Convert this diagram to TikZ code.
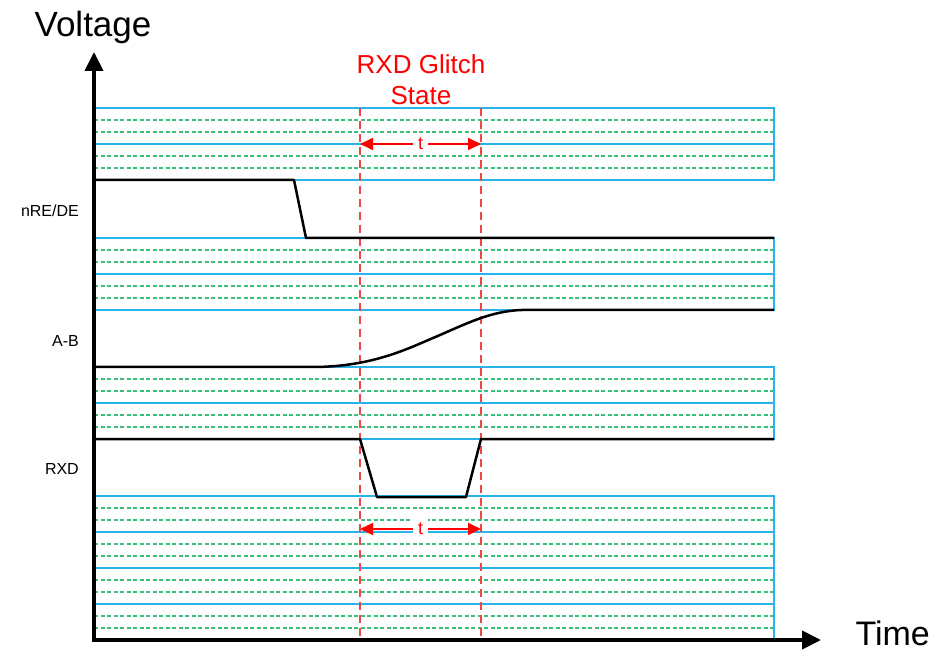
\documentclass[tikz,border=0pt]{standalone}
\usepackage{fontspec}
\setmainfont{Liberation Sans}
\usetikzlibrary{arrows.meta}
\definecolor{gridblue}{RGB}{40,180,235}
\definecolor{gridgreen}{RGB}{60,190,125}
\definecolor{markred}{RGB}{240,70,70}

\begin{document}
\begin{tikzpicture}[x=1pt,y=-1pt,>={Triangle[length=13pt,width=12pt]},
  major/.style={draw=gridblue,line width=1.2pt},
  minor/.style={draw=gridgreen,line width=1.2pt,dash pattern=on 4pt off 2.5pt},
  trace/.style={line width=2.5pt,line join=round},
  marker/.style={draw=markred,line width=1.8pt,dash pattern=on 8pt off 5pt},
  dimline/.style={red,line width=1.6pt,<->},
  tlabel/.style={fill=white,text=red,inner sep=5pt,font=\fontsize{18}{20}\selectfont},
  siglabel/.style={anchor=base east,inner sep=0pt,font=\fontsize{16}{19}\selectfont},
  axislabel/.style={inner sep=0pt,font=\fontsize{35}{42}\selectfont}]
  \useasboundingbox (0,0) rectangle (935,652);
  % grid bands
  \foreach \ytop/\n in {108/2,238/2,367/2,496/4} {
    \draw[major] (94,\ytop) rectangle (774,{\ytop+36*\n});
    \foreach \k in {1,...,\n} {
      \draw[minor] (94,{\ytop+36*\k-24}) -- (774,{\ytop+36*\k-24});
      \draw[minor] (94,{\ytop+36*\k-12}) -- (774,{\ytop+36*\k-12});
      \draw[major] (94,{\ytop+36*\k}) -- (774,{\ytop+36*\k});
    }
  }
  % glitch window
  \coordinate (ga) at (360,108);
  \coordinate (gb) at (481,108);
  \coordinate (ga0) at (360,640);
  \coordinate (gb0) at (481,640);
  \draw[marker] (ga) -- (ga0);
  \draw[marker] (gb) -- (gb0);
  \node[inner sep=0pt,red,align=center,font=\fontsize{26}{31.5}\selectfont] (lblglitch) at (421,79.5) {RXD Glitch\\State};
  \coordinate (ta1) at (360,144);
  \coordinate (tb1) at (481,144);
  \coordinate (ta2) at (360,529);
  \coordinate (tb2) at (481,529);
  \draw[dimline] (ta1) -- node[tlabel] (t1) {t} (tb1);
  \draw[dimline] (ta2) -- node[tlabel] (t2) {t} (tb2);
  % signals
  \draw[trace] (94,180) -- (294,180) -- (306,238) -- (774,238);
  \draw[trace] (94,367) -- (312,367) .. controls (370,367) and (405,350) .. (433,338)
    .. controls (466,324) and (490,311) .. (522,310) -- (774,310);
  \draw[trace] (94,439) -- (360,439) -- (377,497) -- (466,497) -- (481,439) -- (774,439);
  \node[siglabel] (lblnre) at (79,216.7) {nRE/DE};
  \node[siglabel] (lblab) at (79,346.7) {A-B};
  \node[siglabel] (lblrxd) at (79,474) {RXD};
  % axes
  \coordinate (origin) at (94,640);
  \coordinate (vtip) at (94,52);
  \coordinate (htip) at (821,640);
  \draw[line width=4pt,<->,>={Triangle[length=19pt,width=18pt]}] (vtip) -- (origin) -- (htip);
  \node[axislabel,anchor=base] (lblvolt) at (93,37) {Voltage};
  \node[axislabel,anchor=base east,font=\fontsize{34}{40}\selectfont] (lbltime) at (930,645) {Time};
\end{tikzpicture}
\end{document}
